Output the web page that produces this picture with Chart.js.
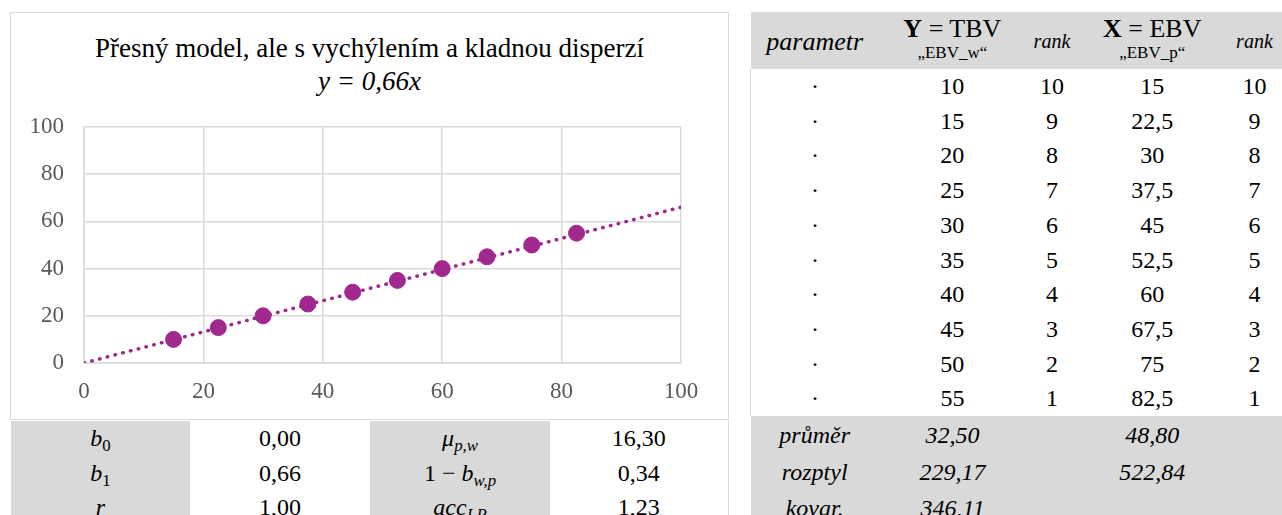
<!DOCTYPE html>
<html>
<head>
<meta charset="utf-8">
<script src="https://cdn.jsdelivr.net/npm/chart.js@4/dist/chart.umd.min.js"></script>
<style>
    body { margin: 0; width: 1282px; height: 515px; overflow: hidden; background: #fff; font-family: "Liberation Serif", "Times New Roman", serif; color: #000; position: relative; }
    .chart-box { position: absolute; left: 10px; top: 12px; width: 719px; height: 408px; box-sizing: border-box; border: 1px solid #d9d9d9; }
    .chart-wrap { position: absolute; left: 0; top: 0; width: 717px; height: 406px; }
    .title { position: absolute; left: 0; width: 717px; text-align: center; font-size: 27px; line-height: 30px; color: #000; }
    .t1 { top: 20px; }
    .t2 { top: 53px; font-style: italic; }
    table { border-collapse: collapse; position: absolute; table-layout: fixed; }
    td { padding: 0; text-align: center; white-space: nowrap; }
    .grey { background: #d9d9d9; }
    .it { font-style: italic; }
    sub { font-size: 70%; vertical-align: -0.3em; line-height: 0; }
    sub.up { font-style: normal; }
    #statsTable { left: 11px; top: 421px; font-size: 24px; }
    #statsTable td { height: 34.5px; line-height: 34.5px; }
    #statsTable td.last { border-right: 1px solid #d9d9d9; }
    #dataTable { left: 750px; top: 12px; font-size: 24px; }
    #dataTable thead td { height: 57px; line-height: 22px; }
    #dataTable thead .big { font-size: 26px; position: relative; top: 1px; }
    #dataTable tbody td { height: 34.7px; line-height: 34.7px; }
    #dataTable tfoot td { height: 32.7px; padding-top: 2px; line-height: 34.7px; }
    #dataTable tbody td:first-child { border-left: 1px solid #d9d9d9; }
    .small { font-size: 17px; }
    .rank { font-size: 20px; font-style: italic; }
</style>
</head>
<body>

<div class="chart-box">
    <div class="title t1">Přesný model, ale s vychýlením a kladnou disperzí</div>
    <div class="title t2">y = 0,66x</div>
    <div class="chart-wrap"><canvas id="scatterChart"></canvas></div>
</div>

<table id="statsTable">
    <colgroup><col style="width:179px"><col style="width:180px"><col style="width:180px"><col style="width:178px"></colgroup>
    <tbody id="statsBody"></tbody>
</table>

<table id="dataTable">
    <colgroup><col style="width:130px"><col style="width:150px"><col style="width:52px"><col style="width:152px"><col style="width:56px"></colgroup>
    <thead>
        <tr class="grey">
            <td class="it"><span class="big">parametr</span></td>
            <td><span class="big"><b>Y</b> = TBV</span><br><span class="small">„EBV_w“</span></td>
            <td class="rank">rank</td>
            <td><span class="big"><b>X</b> = EBV</span><br><span class="small">„EBV_p“</span></td>
            <td class="rank">rank</td>
        </tr>
    </thead>
    <tbody id="dataBody"></tbody>
    <tfoot id="dataFoot"></tfoot>
</table>

<script>
// ===== DATA =====
const ebvW = [10, 15, 20, 25, 30, 35, 40, 45, 50, 55];          // Y = TBV
const rankW = [10, 9, 8, 7, 6, 5, 4, 3, 2, 1];
const ebvP = [15, 22.5, 30, 37.5, 45, 52.5, 60, 67.5, 75, 82.5]; // X = EBV
const rankP = [10, 9, 8, 7, 6, 5, 4, 3, 2, 1];

// trendline end points
const trendX = [0, 100];
const trendY = [0, 66];

const axisTicks = [0, 20, 40, 60, 80, 100];

const summaryLabels = ['průměr', 'rozptyl', 'kovar.'];
const summaryW = ['32,50', '229,17', '346,11'];
const summaryP = ['48,80', '522,84', ''];

const statLabelsA = ['b<sub class="up">0</sub>', 'b<sub class="up">1</sub>', 'r'];
const statValuesA = ['0,00', '0,66', '1,00'];
const statLabelsB = ['μ<sub>p,w</sub>', '<span style="font-style:normal">1 − </span>b<sub>w,p</sub>', 'acc<sub>I,P</sub>'];
const statValuesB = ['16,30', '0,34', '1,23'];

const purple = '#a0288f';
const fmt = v => String(v).replace('.', ',');

// ===== TABLES =====
function renderStats() {
    const body = document.getElementById('statsBody');
    body.innerHTML = statLabelsA.map((l, i) => `
        <tr>
            <td class="grey it">${l}</td>
            <td>${statValuesA[i]}</td>
            <td class="grey it">${statLabelsB[i]}</td>
            <td class="last">${statValuesB[i]}</td>
        </tr>
    `).join('');
}

function renderData() {
    document.getElementById('dataBody').innerHTML = ebvW.map((w, i) => `
        <tr>
            <td>·</td>
            <td>${fmt(w)}</td>
            <td>${rankW[i]}</td>
            <td>${fmt(ebvP[i])}</td>
            <td>${rankP[i]}</td>
        </tr>
    `).join('');
    document.getElementById('dataFoot').innerHTML = summaryLabels.map((l, i) => `
        <tr class="grey it">
            <td>${l}</td>
            <td>${summaryW[i]}</td>
            <td></td>
            <td>${summaryP[i]}</td>
            <td></td>
        </tr>
    `).join('');
}

// ===== CHART =====
function initChart() {
    const ctx = document.getElementById('scatterChart').getContext('2d');
    const tickFont = { family: '"Liberation Serif", "Times New Roman", serif', size: 23 };

    new Chart(ctx, {
        type: 'scatter',
        data: {
            datasets: [{
                label: 'EBV',
                data: ebvP.map((x, i) => ({ x: x, y: ebvW[i] })),
                backgroundColor: purple,
                borderColor: purple,
                pointRadius: 8,
                pointHoverRadius: 8,
                order: 0
            }, {
                label: 'trend',
                type: 'line',
                data: trendX.map((x, i) => ({ x: x, y: trendY[i] })),
                borderColor: purple,
                borderWidth: 3.5,
                borderDash: [0.5, 7.5],
                borderCapStyle: 'round',
                pointRadius: 0,
                fill: false,
                order: 1
            }]
        },
        options: {
            responsive: true,
            maintainAspectRatio: false,
            animation: false,
            layout: { padding: { top: 114, right: 47, bottom: 0, left: 0 } },
            plugins: {
                legend: { display: false },
                tooltip: { enabled: false }
            },
            scales: {
                x: {
                    type: 'linear',
                    min: 0,
                    max: 100,
                    afterBuildTicks: s => { s.ticks = axisTicks.map(v => ({ value: v })); },
                    afterFit: s => { s.height = 56; },
                    grid: { color: '#d9d9d9', lineWidth: 1.5, drawTicks: false },
                    border: { color: '#d9d9d9', width: 1.5 },
                    ticks: { color: '#595959', font: tickFont, padding: 15, maxRotation: 0 }
                },
                y: {
                    type: 'linear',
                    min: 0,
                    max: 100,
                    afterBuildTicks: s => { s.ticks = axisTicks.map(v => ({ value: v })); },
                    afterFit: s => { s.width = 73; },
                    grid: { color: '#d9d9d9', lineWidth: 1.5, drawTicks: false },
                    border: { color: '#d9d9d9', width: 1.5 },
                    ticks: { color: '#595959', font: tickFont, padding: 20 }
                }
            }
        }
    });
}

renderStats();
renderData();
initChart();
</script>
</body>
</html>
